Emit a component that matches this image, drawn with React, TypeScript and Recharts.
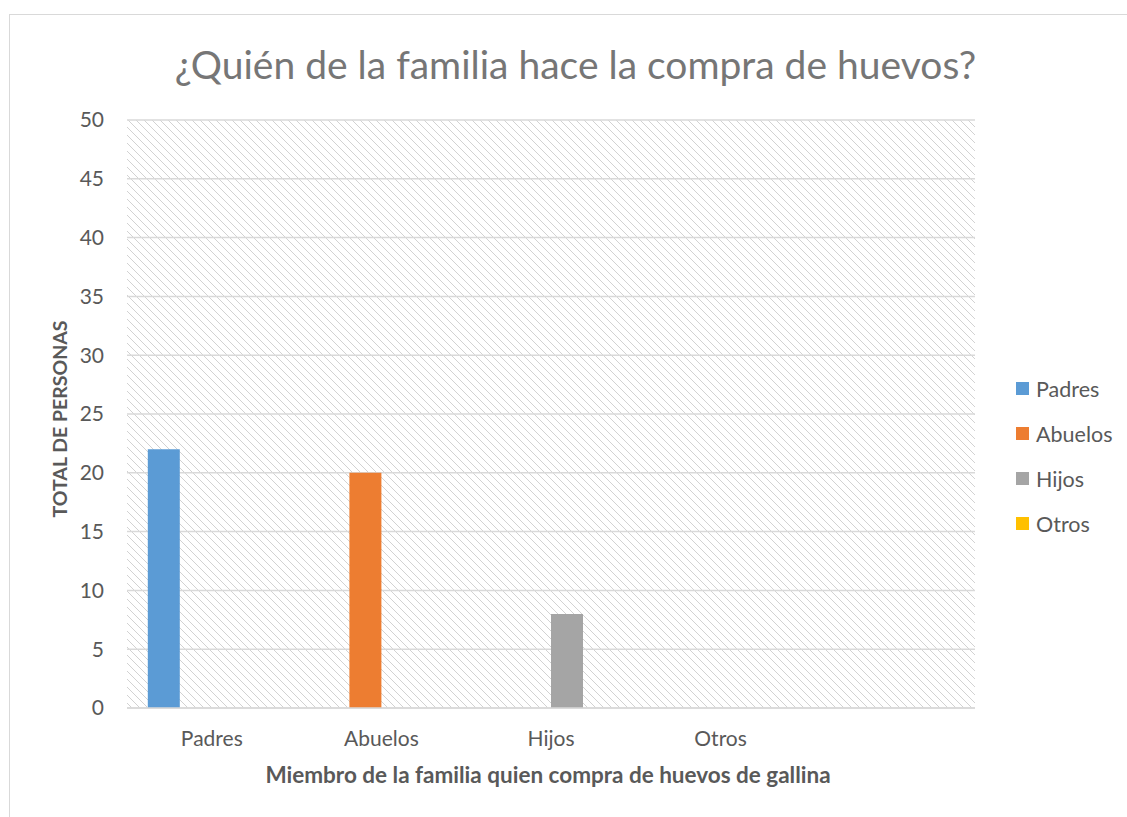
import React from 'react';
import { BarChart, Bar, XAxis, YAxis, CartesianGrid, Label } from 'recharts';

const categorias = ['Padres', 'Abuelos', 'Hijos', 'Otros', ''];
const padres = [22, 0, 0, 0, 0];
const abuelos = [0, 20, 0, 0, 0];
const hijos = [0, 0, 8, 0, 0];
const otros = [0, 0, 0, 0, 0];
const yTicks = [0, 5, 10, 15, 20, 25, 30, 35, 40, 45, 50];

const SERIES = [
  { key: 'Padres', color: '#5B9BD5' },
  { key: 'Abuelos', color: '#ED7D31' },
  { key: 'Hijos', color: '#A5A5A5' },
  { key: 'Otros', color: '#FFC000' },
];

const data = categorias.map((c, i) => ({
  cat: c,
  Padres: padres[i],
  Abuelos: abuelos[i],
  Hijos: hijos[i],
  Otros: otros[i],
}));

const FONT = 'Lato, "Open Sans", sans-serif';
const TXT = '#595959';

export default function App() {
  const dots = [0, 1, 2, 3, 4, 5, 6, 7];
  return (
    <div style={{ position: 'absolute', left: 0, top: 0, width: 1127, height: 817, overflow: 'hidden', background: '#fff', fontFamily: FONT }}>
      <svg width={0} height={0} style={{ position: 'absolute' }}>
        <defs>
          <pattern id="hatch" patternUnits="userSpaceOnUse" width={8} height={8}>
            {dots.map((d) => (
              <rect key={d} x={d} y={d} width={1} height={1} fill="#d2d2d2" />
            ))}
          </pattern>
        </defs>
      </svg>
      <div style={{ position: 'absolute', left: 9, top: 14, width: 1200, height: 900, border: '1px solid #d9d9d9' }} />
      <div style={{ position: 'absolute', left: 0, width: 1151, top: 39, textAlign: 'center', fontSize: 39, color: '#767676', lineHeight: '50px' }}>
        ¿Quién de la familia hace la compra de huevos?
      </div>
      <div style={{ position: 'absolute', left: 0, top: 0 }}>
        <BarChart
          width={1127}
          height={817}
          data={data}
          margin={{ top: 120, right: 152, left: 40, bottom: 79 }}
          barCategoryGap={20.8}
          barGap={0}
        >
          <CartesianGrid vertical={false} stroke="#d9d9d9" strokeWidth={1.5} fill="url(#hatch)" />
          <XAxis
            dataKey="cat"
            height={30}
            axisLine={{ stroke: '#d9d9d9', strokeWidth: 1.5 }}
            tickLine={false}
            tick={{ fill: TXT, fontSize: 21, fontFamily: FONT }}
            tickMargin={17}
            interval={0}
          >
            <Label
              content={() => (
                <text x={548} y={783} textAnchor="middle" fill={TXT} fontSize={22.5} fontWeight="bold" fontFamily={FONT}>
                  Miembro de la familia quien compra de huevos de gallina
                </text>
              )}
            />
          </XAxis>
          <YAxis
            width={87}
            domain={[0, 50]}
            ticks={yTicks}
            axisLine={false}
            tickLine={false}
            tick={{ fill: TXT, fontSize: 21, fontFamily: FONT }}
            tickMargin={17}
          >
            <Label
              content={() => (
                <text x={67} y={419} transform="rotate(-90 67 419)" textAnchor="middle" fill={TXT} fontSize={19.5} fontWeight="bold" fontFamily={FONT}>
                  TOTAL DE PERSONAS
                </text>
              )}
            />
          </YAxis>
          {SERIES.map((s) => (
            <Bar key={s.key} dataKey={s.key} fill={s.color} isAnimationActive={false} />
          ))}
        </BarChart>
      </div>
      <div style={{ position: 'absolute', left: 1016, top: 366 }}>
        {SERIES.map((s) => (
          <div key={s.key} style={{ display: 'flex', alignItems: 'center', height: 45 }}>
            <div style={{ width: 13, height: 13, background: s.color, marginRight: 7 }} />
            <span style={{ fontSize: 21.5, color: TXT, lineHeight: '26px' }}>{s.key}</span>
          </div>
        ))}
      </div>
    </div>
  );
}
